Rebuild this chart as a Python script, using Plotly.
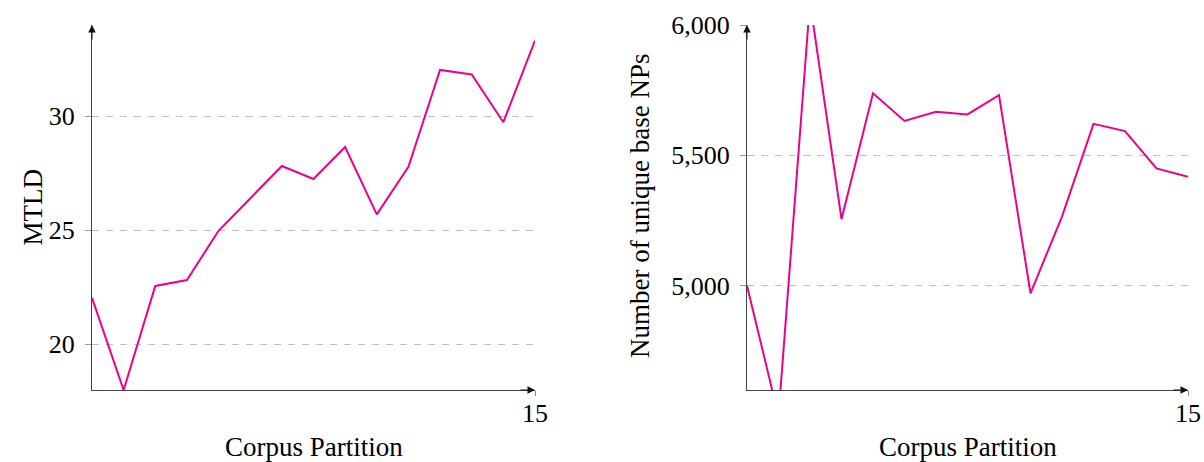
import plotly.graph_objects as go

# Corpus partitions 1..15
partitions = list(range(1, 16))

# Lexical diversity (MTLD) per partition
mtld = [22.04, 18.0, 22.56, 22.82, 24.98, 26.4, 27.82, 27.25, 28.65, 25.70,
        27.78, 32.03, 31.83, 29.74, 33.32]

# Number of unique base noun phrases per partition
unique_nps = [5000, 4500, 6090, 5255, 5738, 5632, 5667, 5657, 5731, 4971,
              5265, 5621, 5593, 5450, 5418]

mtld_ticks = [20, 25, 30]
nps_ticks = [5000, 5500, 6000]
x_ticks = [15]

W, H = 1204, 462
LINE = "#EC008C"
FONT = "Liberation Serif"
FS = 26
FS_TITLE = 27
AXIS = "#444444"

def px_x(p):
    return p / W

def px_y(p):
    return 1 - p / H

fig = go.Figure()
fig.add_trace(go.Scatter(x=partitions, y=mtld, mode="lines",
                         line=dict(color=LINE, width=2), xaxis="x", yaxis="y",
                         showlegend=False))
fig.add_trace(go.Scatter(x=partitions, y=unique_nps, mode="lines",
                         line=dict(color=LINE, width=2), xaxis="x2", yaxis="y2",
                         showlegend=False))

xcommon = dict(range=[1, 15], tickvals=x_ticks, showline=True, linecolor=AXIS,
               linewidth=1, ticks="outside", ticklen=5, tickcolor="#888888",
               showgrid=False, zeroline=False, automargin=False,
               ticklabelstandoff=-5,
               tickfont=dict(family=FONT, size=FS, color="black"))
ycommon = dict(showline=True, linecolor=AXIS, linewidth=1, ticks="outside",
               ticklen=6, tickcolor="#999999", showgrid=True,
               gridcolor="#BFBFBF", griddash="7px,7px", gridwidth=1,
               zeroline=False, ticklabelstandoff=5, automargin=False,
               tickfont=dict(family=FONT, size=FS, color="black"))

fig.update_layout(
    width=W, height=H,
    margin=dict(l=0, r=0, t=0, b=0, pad=0, autoexpand=False),
    paper_bgcolor="white", plot_bgcolor="white",
    xaxis=dict(domain=[px_x(92), px_x(535)], anchor="y", **xcommon),
    yaxis=dict(domain=[px_y(390), px_y(25)], anchor="x", range=[18, 34],
               tickvals=mtld_ticks, **ycommon),
    xaxis2=dict(domain=[px_x(747), px_x(1188)], anchor="y2", **xcommon),
    yaxis2=dict(domain=[px_y(390), px_y(25)], anchor="x2", range=[4600, 6000],
                tickvals=nps_ticks, tickformat=",d", **ycommon),
)

annotations = []
# arrowheads at the ends of the axis lines
for xr, yr, xe, y0, ye in [("x", "y", 15, 18, 34), ("x2", "y2", 15, 4600, 6000)]:
    annotations.append(dict(x=xe, y=y0, xref=xr, yref=yr, ax=-16, ay=0,
                            showarrow=True, arrowhead=2, arrowsize=1.5,
                            arrowwidth=1, arrowcolor="#111111", text="",
                            standoff=0))
    annotations.append(dict(x=1, y=ye, xref=xr, yref=yr, ax=0, ay=16,
                            showarrow=True, arrowhead=2, arrowsize=1.5,
                            arrowwidth=1, arrowcolor="#111111", text="",
                            standoff=0))

# axis titles
titles = [
    ("MTLD", 33, 207.5, -90),
    ("Corpus Partition", 313.5, 447, 0),
    ("Number of unique base NPs", 640, 206, -90),
    ("Corpus Partition", 967.5, 447, 0),
]
for text, cx, cy, ang in titles:
    annotations.append(dict(text=text, x=px_x(cx), y=px_y(cy), xref="paper",
                            yref="paper", xanchor="center", yanchor="middle",
                            textangle=ang, showarrow=False,
                            font=dict(family=FONT, size=FS_TITLE, color="black")))

fig.update_layout(annotations=annotations)

fig.write_html("out.html")
